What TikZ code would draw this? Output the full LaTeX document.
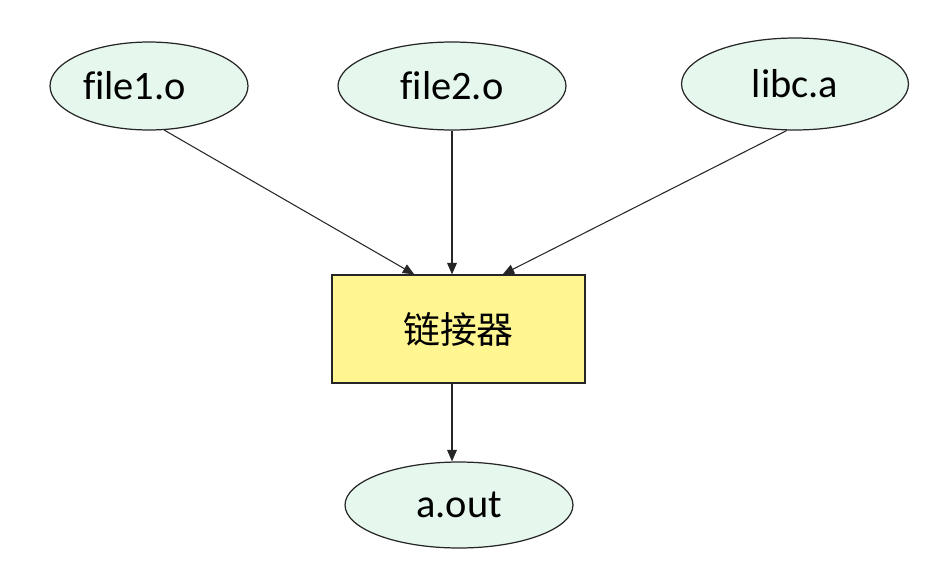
\documentclass[tikz,border=0pt]{standalone}
\usepackage{fontspec}
\setmainfont{Carlito}[Ligatures=NoCommon]
\newfontfamily\cjk{Noto Sans CJK SC}
\usetikzlibrary{shapes.geometric,arrows.meta}

\definecolor{objfill}{RGB}{230,248,237}
\definecolor{linkfill}{RGB}{255,245,145}

\tikzset{
  objfile/.style={ellipse, draw=black!85, line width=0.7pt, fill=objfill,
    inner sep=0pt, minimum height=1.76cm, font=\fontsize{23}{26}\selectfont},
  linkbox/.style={rectangle, draw=black!85, line width=0.7pt, fill=linkfill,
    minimum width=5.06cm, minimum height=2.16cm, font=\cjk\fontsize{21}{25}\selectfont},
  feed/.style={-{Triangle[length=6.5pt,width=5.5pt]}, line width=0.6pt, black!85}
}

\begin{document}
\begin{tikzpicture}[x=0.02cm, y=-0.02cm]
  \useasboundingbox (0,0) rectangle (947,568);

  % Inputs of the linker
  \node [objfile, minimum width=3.96cm] (file1) at (149,86) {file1.o\kern0.58cm};
  \node [objfile, minimum width=4.56cm] (file2) at (452,86) {file2.o};
  \node [objfile, minimum width=4.54cm, minimum height=1.84cm] (libc) at (795,84) {libc.a};

  % The linker itself
  \node [linkbox] (linker) at (458.5,329) {链接器};

  % Output
  \node [objfile, minimum width=4.56cm, minimum height=1.72cm] (aout) at (459,505) {a.out};

  % Connectors
  \draw [feed] (file1.-71) -- (linker.129);
  \draw [feed] (file2.south) -- (file2.south |- linker.north);
  \draw [feed] (libc.-100) -- (linker.51);
  \draw [feed] (file2.south |- linker.south) -- (file2.south |- aout.north);
\end{tikzpicture}
\end{document}
